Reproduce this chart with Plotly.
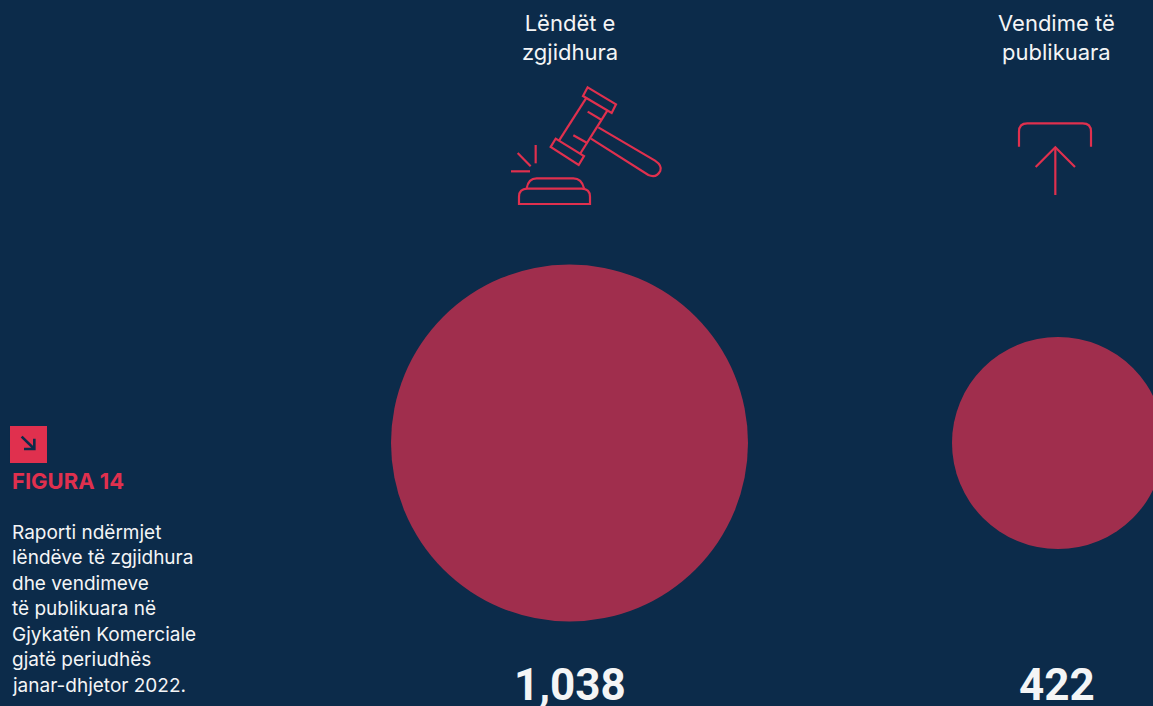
import math
import plotly.graph_objects as go

categories = ["Lëndët e<br>zgjidhura", "Vendime të<br>publikuara"]
values = [1038, 422]
value_labels = ["1,038", "422"]
figure_label = "FIGURA 14"
caption_lines = ["Raporti ndërmjet", "lëndëve të zgjidhura", "dhe vendimeve", "të publikuara në",
                 "Gjykatën Komerciale", "gjatë periudhës", "janar-dhjetor 2022."]

BG = "#0C2B4A"
RED = "#E0304E"
TXT = "#F4F5F6"
W, H = 1153, 706

def px(x): return x / W
def py(y): return 1 - y / H

def path(cmds):
    out = []
    for c in cmds:
        if isinstance(c, str):
            out.append(c)
        else:
            out.append(f"{px(c[0]):.5f},{py(c[1]):.5f}")
    return " ".join(out)

def zg(x, y): return (490 + x / 3, 70 + y / 3)
def za(x, y): return (1000 + x / 3, 110 + y / 3)
def zb(x, y): return (x / 3, 420 + y / 3)

def line_shape(cmds, color=RED, width=2.2, fill=None):
    return dict(type="path", xref="paper", yref="paper", path=path(cmds),
                line=dict(color=color, width=width), fillcolor=fill or "rgba(0,0,0,0)", layer="above")

def poly(f, pts, close=False):
    cmds = []
    for i, p in enumerate(pts):
        cmds += ["M" if i == 0 else "L", f(*p)]
    if close:
        cmds.append("Z")
    return cmds

shapes = []
# gavel icon
shapes.append(line_shape(poly(zg, [(293, 52), (378, 103), (365, 129), (279, 78)], True)))
shapes.append(line_shape(poly(zg, [(197, 206), (282, 258), (266, 285), (182, 231)], True)))
shapes.append(line_shape(poly(zg, [(290, 82), (207, 212)])))
shapes.append(line_shape(poly(zg, [(352, 122), (270, 252)])))
shapes.append(line_shape(poly(zg, [(293, 125), (335, 150)])))
shapes.append(line_shape(poly(zg, [(250, 196), (293, 220)])))
shapes.append(line_shape(["M", zg(325, 172), "L", zg(495, 272), "Q", zg(517, 287), zg(511, 302),
                          "Q", zg(500, 325), zg(475, 315), "L", zg(303, 206)]))
shapes.append(line_shape(poly(zg, [(137, 225), (137, 280)])))
shapes.append(line_shape(poly(zg, [(83, 249), (122, 289)])))
shapes.append(line_shape(poly(zg, [(63, 304), (120, 304)])))
shapes.append(line_shape(["M", zg(110, 355), "Q", zg(115, 325), zg(140, 325), "L", zg(250, 325),
                          "Q", zg(275, 325), zg(282, 355)]))
shapes.append(line_shape(["M", zg(87, 402), "L", zg(87, 380), "Q", zg(87, 357), zg(112, 356),
                          "L", zg(275, 356), "Q", zg(300, 357), zg(300, 380), "L", zg(300, 402), "Z"]))
# upload icon
shapes.append(line_shape(["M", za(57, 110), "L", za(57, 65), "Q", za(57, 40), za(82, 40),
                          "L", za(248, 40), "Q", za(273, 40), za(273, 65), "L", za(273, 110)]))
shapes.append(line_shape(poly(za, [(166, 255), (166, 112)])))
shapes.append(line_shape(poly(za, [(107, 171), (166, 112), (225, 171)])))
# figure badge
shapes.append(line_shape(poly(zb, [(30, 18), (141, 18), (141, 129), (30, 129)], True), width=0, fill=RED))
shapes.append(line_shape(poly(zb, [(65, 50), (103, 87)]), color=BG, width=2.6))
shapes.append(line_shape(poly(zb, [(72, 87), (103, 87), (103, 56)]), color=BG, width=2.6))

annotations = []
def note(x, y, text, size, color=TXT, family="Inter", anchor="center", weight=400):
    annotations.append(dict(xref="paper", yref="paper", x=px(x), y=py(y), text=text, showarrow=False,
                            xanchor=anchor, yanchor="middle", align=anchor,
                            font=dict(size=size, color=color, family=family, weight=weight)))

for i, c in enumerate(categories):
    note((569.5, 1056.5)[i], 38, c, 22)
for i, v in enumerate(value_labels):
    note((569.5, 1057)[i], 685, v, 44, family="Roboto", weight=700)
note(10, 481, figure_label, 22, color=RED, anchor="left", weight=700)
for i, t in enumerate(caption_lines):
    note(10, 532 + i * 25.5, t, 19, anchor="left")

# bubble diameter scale (power scale on the value)
exponent = math.log(357 / 212) / math.log(values[0] / values[1])
sizes = [357 * (v / values[0]) ** exponent for v in values]

# category positions: first centre at pixel 569.5, second at 1058
x0, dx = 569.5, 488.5
fig = go.Figure(go.Scatter(x=categories, y=[0, 0], mode="markers", hoverinfo="skip",
                           marker=dict(size=sizes, sizemode="diameter", color=RED, line=dict(width=0)),
                           cliponaxis=False))
fig.update_layout(
    width=W, height=H, margin=dict(l=0, r=0, t=0, b=0), showlegend=False,
    paper_bgcolor=BG, plot_bgcolor=BG, shapes=shapes, annotations=annotations,
    xaxis=dict(type="category", visible=False, range=[-x0 / dx, (W - x0) / dx]),
    yaxis=dict(visible=False, range=[-(H - 443), 443]),
)
fig.write_html("out.html", config={"displayModeBar": False},
               post_script="document.body.style.margin='0';document.body.style.overflow='hidden';document.documentElement.style.background='#0C2B4A';")
